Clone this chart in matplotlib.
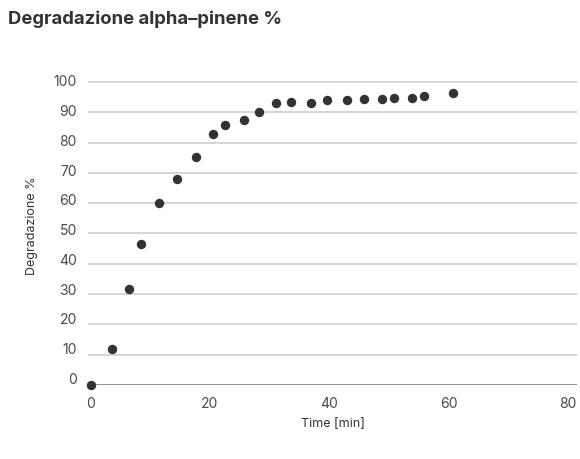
import matplotlib
matplotlib.use("Agg")
import matplotlib.pyplot as plt

plt.rcParams['font.family'] = ['Inter', 'DejaVu Sans']

# data
time_min = [0, 3.6, 6.5, 8.5, 11.5, 14.5, 17.6, 20.5, 22.5, 25.7, 28.3,
            31.0, 33.6, 36.9, 39.6, 43.0, 45.9, 48.8, 50.8, 53.8, 55.8, 60.8]
degradation = [0, 12.0, 31.6, 46.4, 60.0, 68.0, 75.3, 82.9, 85.9, 87.4, 90.1,
               92.9, 93.3, 93.2, 94.0, 94.1, 94.3, 94.2, 94.8, 94.8, 95.5, 96.3]
y_ticks = list(range(0, 101, 10))
x_ticks = [0, 20, 40, 60, 80]

title = "Degradazione alpha\u2013pinene %"
ylabel = "Degradazione %"
xlabel = "Time [min]"

W, H = 580, 459
fig = plt.figure(figsize=(W / 100, H / 100), dpi=100)
ax = fig.add_axes([88 / W, 1 - 385 / H, 489 / W, (385 - 81) / H])

ax.set_xlim(-0.42, 81.5)
ax.set_ylim(0, 100)

# gridlines
for v in y_ticks:
    if v == 0:
        ax.axhline(v, color='#8a8a8a', lw=1.3, zorder=1)
    else:
        ax.axhline(v, color='#d2d2d2', lw=1.3, zorder=1)

ax.scatter(time_min, degradation, s=46, color='#333333', zorder=3,
           clip_on=False, linewidths=0)

for s in ax.spines.values():
    s.set_visible(False)

# y labels sit slightly off the gridlines in the reference
ax.set_yticks([])
ax.set_yticks([2.2 + v * 0.981 for v in y_ticks], minor=True)
ax.set_yticklabels([str(v) for v in y_ticks], minor=True)
ax.tick_params(axis='y', which='minor', length=0, pad=8,
               labelsize=10, labelcolor='#4a4a4a')

ax.set_xticks(x_ticks)
ax.set_xticklabels([str(v) for v in x_ticks])
ax.tick_params(axis='x', length=0, pad=9, labelsize=10, labelcolor='#4a4a4a')

ax.set_xlabel(xlabel, fontsize=9, color='#333333', labelpad=5)
fig.text(32 / W, 1 - 226 / H, ylabel, rotation=90, ha='center', va='center',
         fontsize=9, color='#333333')

fig.text(8 / W, 1 - 19 / H, title, ha='left', va='center',
         fontsize=13.3, fontweight='bold', color='#333333')

fig.savefig("out.png", dpi=100)
